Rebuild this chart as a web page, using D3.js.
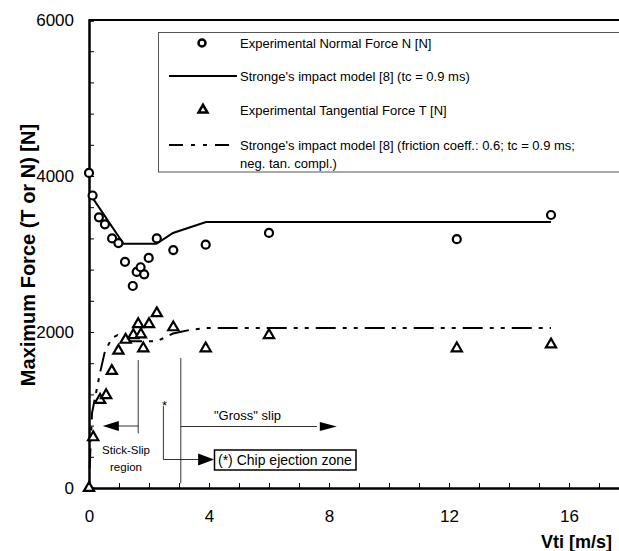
<!DOCTYPE html>
<html>
<head>
<meta charset="utf-8">
<script src="https://cdn.jsdelivr.net/npm/d3@7"></script>
<style>
  body { margin: 0; background: #fff; }
  svg { display: block; font-family: "Liberation Sans", Arial, sans-serif; }
</style>
</head>
<body>
<div id="chart"></div>
<script>
// experimental normal force N
var normalX = [0, 0.12, 0.33, 0.53, 0.77, 0.98, 1.2, 1.46, 1.59, 1.72, 1.84, 1.99, 2.26, 2.81, 3.89, 6.0, 12.26, 15.4];
var normalY = [4040, 3750, 3470, 3380, 3200, 3140, 2900, 2590, 2770, 2830, 2740, 2950, 3200, 3050, 3120, 3270, 3190, 3500];

// experimental tangential force T
var tangX = [0, 0.14, 0.37, 0.57, 0.76, 0.98, 1.22, 1.48, 1.64, 1.73, 1.81, 2.0, 2.26, 2.81, 3.89, 6.0, 12.26, 15.4];
var tangY = [0, 650, 1130, 1190, 1500, 1760, 1900, 1960, 2100, 1970, 1790, 2100, 2240, 2060, 1790, 1960, 1790, 1840];

// Stronge's model, normal
var modelNX = [0.12, 1.15, 2.25, 2.8, 3.9, 15.4];
var modelNY = [3720, 3130, 3130, 3270, 3410, 3410];

// Stronge's model, tangential (friction 0.6)
var modelTX = [0.02, 0.1, 0.25, 0.37, 0.53, 0.76, 0.95, 1.15, 2.26, 2.8, 3.4, 3.9, 15.4];
var modelTY = [250, 960, 1250, 1480, 1750, 1920, 1960, 1880, 1880, 1980, 2030, 2050, 2050];

var xTicks = [0, 4, 8, 12, 16];
var yTicks = [0, 2000, 4000, 6000];

var legendLabels = [
  "Experimental Normal Force N [N]",
  "Stronge's impact model [8] (tc = 0.9 ms)",
  "Experimental Tangential Force T [N]",
  "Stronge's impact model [8] (friction coeff.: 0.6; tc = 0.9 ms;",
  "neg. tan. compl.)"
];

var svgWidth = 619;
var svgHeight = 551;
var margin = { top: 20, left: 89 };

var svg = d3.select("#chart").append("svg")
  .attr("width", svgWidth)
  .attr("height", svgHeight);

var x = d3.scaleLinear().domain([0, 20]).range([margin.left, margin.left + 30 * 20]);
var y = d3.scaleLinear().domain([0, 6000]).range([488, 20]);

// top frame line
svg.append("line")
  .attr("x1", x(0)).attr("x2", svgWidth)
  .attr("y1", y(6000)).attr("y2", y(6000))
  .attr("stroke", "#000").attr("stroke-width", 2);

// x axis
var xAxis = svg.append("g")
  .attr("transform", `translate(0, ${y(0)})`)
  .call(d3.axisBottom(x)
    .tickValues(d3.range(0, 21, 1))
    .tickSize(-5)
    .tickPadding(22)
    .tickFormat(d => xTicks.includes(d) ? d : ""));
xAxis.select(".domain").attr("stroke-width", 2.5);
xAxis.selectAll(".tick line").attr("stroke-width", 1);
xAxis.selectAll("text").attr("font-size", "17px").attr("fill", "#000");

// y axis
var yAxis = svg.append("g")
  .attr("transform", `translate(${x(0)}, 0)`)
  .call(d3.axisLeft(y)
    .tickValues(d3.range(0, 6001, 400))
    .tickSize(-5)
    .tickPadding(15)
    .tickFormat(d => yTicks.includes(d) ? d : ""));
yAxis.select(".domain").attr("stroke-width", 2.5);
yAxis.selectAll(".tick line").attr("stroke-width", 1);
yAxis.selectAll("text").attr("font-size", "17px").attr("fill", "#000");

// axis titles
svg.append("text")
  .attr("transform", "translate(35, 255) rotate(-90)")
  .attr("text-anchor", "middle")
  .attr("font-weight", "bold")
  .attr("font-size", "20px")
  .text("Maximum Force (T or N) [N]");

svg.append("text")
  .attr("x", 612).attr("y", 548)
  .attr("text-anchor", "end")
  .attr("font-weight", "bold")
  .attr("font-size", "18px")
  .text("Vti [m/s]");

// model lines
var line = d3.line().x(d => x(d[0])).y(d => y(d[1]));
var dashPattern = "20,7,4,7,4,7";

svg.append("path")
  .datum(modelNX.map((v, i) => [v, modelNY[i]]))
  .attr("d", line)
  .attr("fill", "none").attr("stroke", "#000").attr("stroke-width", 2);

svg.append("path")
  .datum(modelTX.map((v, i) => [v, modelTY[i]]))
  .attr("d", line)
  .attr("fill", "none").attr("stroke", "#000").attr("stroke-width", 2)
  .attr("stroke-dasharray", dashPattern);

// experimental points
svg.append("g").selectAll("circle")
  .data(normalX.map((v, i) => [v, normalY[i]]))
  .enter().append("circle")
  .attr("cx", d => x(d[0]))
  .attr("cy", d => y(d[1]))
  .attr("r", 4)
  .attr("fill", "#fff").attr("stroke", "#000").attr("stroke-width", 2.2);

var tri = d3.symbol().type(d3.symbolTriangle).size(45);
svg.append("g").selectAll("path")
  .data(tangX.map((v, i) => [v, tangY[i]]))
  .enter().append("path")
  .attr("d", tri)
  .attr("transform", d => `translate(${x(d[0])}, ${y(d[1])})`)
  .attr("fill", "#fff").attr("stroke", "#000").attr("stroke-width", 2.2);

// legend
var legend = svg.append("g");
legend.append("rect")
  .attr("x", 158.5).attr("y", 32.5)
  .attr("width", 500).attr("height", 139.5)
  .attr("fill", "#fff").attr("stroke", "#555").attr("stroke-width", 1);

var rowY = [43, 76, 110, 145, 163];
legend.append("circle")
  .attr("cx", 202).attr("cy", rowY[0]).attr("r", 3.5)
  .attr("fill", "#fff").attr("stroke", "#000").attr("stroke-width", 2.5);
legend.append("line")
  .attr("x1", 169).attr("x2", 237).attr("y1", rowY[1]).attr("y2", rowY[1])
  .attr("stroke", "#000").attr("stroke-width", 2);
legend.append("path")
  .attr("d", d3.symbol().type(d3.symbolTriangle).size(35))
  .attr("transform", `translate(203, ${rowY[2]})`)
  .attr("fill", "#fff").attr("stroke", "#000").attr("stroke-width", 2.5);
legend.append("line")
  .attr("x1", 169).attr("x2", 237).attr("y1", rowY[3]).attr("y2", rowY[3])
  .attr("stroke", "#000").attr("stroke-width", 2)
  .attr("stroke-dasharray", "14,8,4,8,4,8");

legend.selectAll("text")
  .data(legendLabels)
  .enter().append("text")
  .attr("x", 240)
  .attr("y", (d, i) => rowY[i])
  .attr("dy", "0.35em")
  .attr("font-size", "13px")
  .text(d => d);

// annotations
var ann = svg.append("g");
var arrowHead = function(tipX, tipY, dir, len, half) {
  return `M${tipX},${tipY} L${tipX - dir * len},${tipY - half} L${tipX - dir * len},${tipY + half} Z`;
};

// stick-slip
ann.append("line")
  .attr("x1", x(1.64)).attr("x2", x(1.64))
  .attr("y1", y(1640)).attr("y2", y(700))
  .attr("stroke", "#000").attr("stroke-width", 0.8);
ann.append("line")
  .attr("x1", x(1.64)).attr("x2", x(0.55))
  .attr("y1", 426).attr("y2", 426)
  .attr("stroke", "#000").attr("stroke-width", 0.8);
ann.append("path").attr("d", arrowHead(x(0.46), 426, -1, 16, 5)).attr("fill", "#000");
ann.append("text").attr("x", 126).attr("y", 454).attr("text-anchor", "middle")
  .attr("font-size", "11.5px").text("Stick-Slip");
ann.append("text").attr("x", 126).attr("y", 471).attr("text-anchor", "middle")
  .attr("font-size", "11.5px").text("region");

// gross slip
ann.append("line")
  .attr("x1", x(3.06)).attr("x2", x(3.06))
  .attr("y1", y(1667)).attr("y2", y(60))
  .attr("stroke", "#000").attr("stroke-width", 0.8);
ann.append("line")
  .attr("x1", x(3.06)).attr("x2", x(7.6))
  .attr("y1", 426.5).attr("y2", 426.5)
  .attr("stroke", "#000").attr("stroke-width", 0.8);
ann.append("path").attr("d", arrowHead(x(8.26), 426.5, 1, 17, 4.5)).attr("fill", "#000");
ann.append("text").attr("x", 247.5).attr("y", 420).attr("text-anchor", "middle")
  .attr("font-size", "13px").text("\"Gross\" slip");

// chip ejection
ann.append("text").attr("x", 164.5).attr("y", 410).attr("text-anchor", "middle")
  .attr("font-size", "13px").text("*");
ann.append("polyline")
  .attr("points", `${x(2.48)},406 ${x(2.48)},459.5 ${x(3.64)},459.5`)
  .attr("fill", "none").attr("stroke", "#000").attr("stroke-width", 0.8);
ann.append("path").attr("d", arrowHead(x(4.17), 459.5, 1, 16, 6)).attr("fill", "#000");
ann.append("rect")
  .attr("x", 214.5).attr("y", 450)
  .attr("width", 141.5).attr("height", 20)
  .attr("fill", "#fff").attr("stroke", "#000").attr("stroke-width", 1.5);
ann.append("text").attr("x", 218).attr("y", 464.5)
  .attr("font-size", "14px").text("(*) Chip ejection zone");
</script>
</body>
</html>
